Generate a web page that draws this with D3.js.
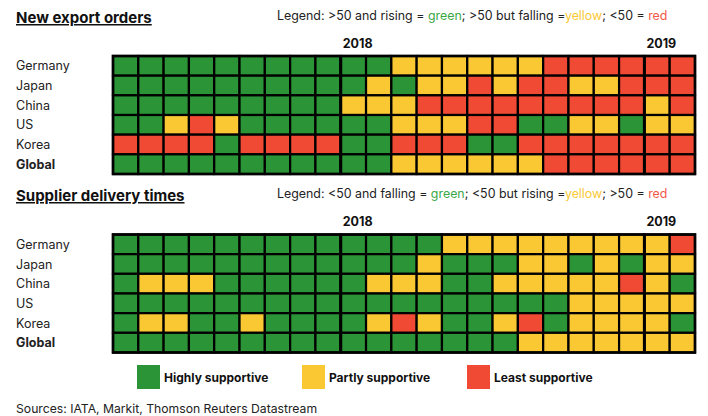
<!DOCTYPE html>
<html><head><meta charset="utf-8">
<script src="https://cdn.jsdelivr.net/npm/d3@7"></script>
<style>body{margin:0;background:#fff}svg{display:block}text{font-family:Inter,"Noto Sans",sans-serif}</style>
</head><body>
<script>
const months = ["Apr-17","May-17","Jun-17","Jul-17","Aug-17","Sep-17","Oct-17","Nov-17","Dec-17",
  "Jan-18","Feb-18","Mar-18","Apr-18","May-18","Jun-18","Jul-18","Aug-18","Sep-18","Oct-18","Nov-18","Dec-18",
  "Jan-19","Feb-19"];
const countries = ["Germany","Japan","China","US","Korea","Global"];
const yearLabels = [{m:"Jan-18",t:"2018"},{m:"Jan-19",t:"2019"}];
// G = Highly supportive, Y = Partly supportive, R = Least supportive
const exportOrders = [
  "GGGGGGGGGGGYYYYYYRRRRRR",
  "GGGGGGGGGGYGYYRYRRYYRRR",
  "GGGGGGGGGYYYRRRRRRRRRYR",
  "GGYRYGGGGGGYYYRRGGYYGYY",
  "RRRRGRRRRGGRRRGGRRRRRRR",
  "GGGGGGGGGGGYYYYYYRRRRRR"
];
const supplierTimes = [
  "GGGGGGGGGGGGGYYYYYYYYYR",
  "GGGGGGGGGGGGYGGGYYGYGYY",
  "GYYYGGGGGGYYYGGYYYYYRYG",
  "GGGGGGGGGGGGGGGGGGYYYYY",
  "GYYGGYGGGGYRYGGYRGYYYYG",
  "GGGGGGGGGGGGGGGGYYYYYYY"
];
const legendCodes = ["G","Y","R"];
const legendNames = ["Highly supportive","Partly supportive","Least supportive"];
const colors = {G:"#2a9436", Y:"#f9c833", R:"#f04a34"};
const textColors = {G:"#3aa847", Y:"#f9c833", R:"#f2574a"};

const W=708,H=416;
const svg=d3.select("body").append("svg").attr("width",W).attr("height",H);
const x=d3.scaleBand().domain(months).range([113,695]).padding(0);

function section(title, legendParts, data, y0, y1, titleY, yearY){
  svg.append("text").attr("x",16).attr("y",titleY).attr("font-size",15).attr("font-weight",700)
    .attr("text-decoration","underline").attr("fill","#111").text(title);
  const lt=svg.append("text").attr("x",277).attr("y",titleY-3).attr("font-size",12.4).attr("fill","#222");
  legendParts.forEach(p=>lt.append("tspan").attr("fill",p.c?textColors[p.c]:"#222").text(p.t));
  yearLabels.forEach(d=>svg.append("text").attr("x",x(d.m)+2).attr("y",yearY)
    .attr("font-size",12.5).attr("font-weight",700).attr("fill","#111").text(d.t));
  const y=d3.scaleBand().domain(countries).range([y0,y1]).padding(0);
  const g=svg.append("g");
  countries.forEach((c,i)=>{
    g.selectAll(null).data(data[i].split("").map((v,j)=>({m:months[j],v})))
      .join("rect").attr("x",d=>x(d.m)).attr("y",y(c)).attr("width",x.bandwidth()).attr("height",y.bandwidth())
      .attr("fill",d=>colors[d.v]).attr("stroke","#000").attr("stroke-width",2.2);
    svg.append("text").attr("x",16).attr("y",y(c)+y.bandwidth()/2+4.5).attr("font-size",12.5)
      .attr("font-weight",c==="Global"?700:400).attr("fill","#222").text(c);
  });
  g.append("rect").attr("x",x.range()[0]).attr("y",y0).attr("width",x.range()[1]-x.range()[0]).attr("height",y1-y0)
    .attr("fill","none").attr("stroke","#000").attr("stroke-width",2.6);
  yearLabels.forEach(d=>g.append("line").attr("x1",x(d.m)).attr("x2",x(d.m)).attr("y1",y0).attr("y2",y1)
    .attr("stroke","#000").attr("stroke-width",3));
}

section("New export orders",
  [{t:"Legend: >50 and rising = "},{t:"green",c:"G"},{t:"; >50 but falling ="},{t:"yellow",c:"Y"},{t:"; <50 = "},{t:"red",c:"R"}],
  exportOrders,56,174,23,48);
section("Supplier delivery times",
  [{t:"Legend: <50 and falling = "},{t:"green",c:"G"},{t:"; <50 but rising ="},{t:"yellow",c:"Y"},{t:"; >50 = "},{t:"red",c:"R"}],
  supplierTimes,234.5,352.5,201,226);

const lx=d3.scalePoint().domain(legendCodes).range([137,467]);
legendCodes.forEach((c,i)=>{
  svg.append("rect").attr("x",lx(c)).attr("y",365).attr("width",23).attr("height",24).attr("fill",colors[c]);
  svg.append("text").attr("x",lx(c)+27).attr("y",382).attr("font-size",12).attr("font-weight",700)
    .attr("fill","#111").text(legendNames[i]);
});
svg.append("text").attr("x",16).attr("y",413).attr("font-size",12.2).attr("fill","#222")
  .text("Sources: IATA, Markit, Thomson Reuters Datastream");
</script>
</body></html>
